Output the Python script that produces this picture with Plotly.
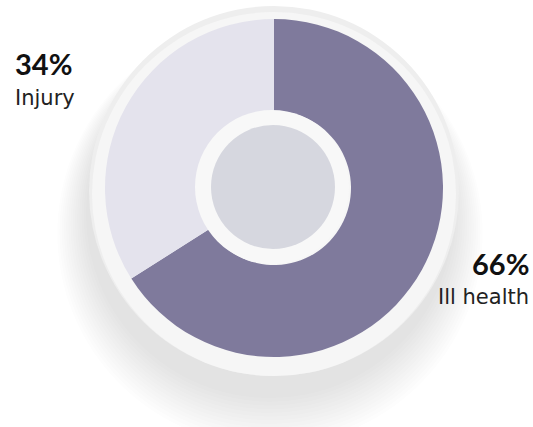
import plotly.graph_objects as go

labels = ["Ill health", "Injury"]
values = [66, 34]
colors = ["#7f7a9c", "#e4e3ed"]
pct_text = ["66%", "34%"]

W, H = 533, 427
PCT_FONT = "Lato"
LBL_FONT = "DejaVu Sans"


def px(x):
    return x / W


def py(y):
    return 1 - y / H


def circle(cx, cy, r, fill, layer="below"):
    return dict(
        type="circle", xref="paper", yref="paper",
        x0=px(cx - r), x1=px(cx + r), y0=py(cy + r), y1=py(cy - r),
        fillcolor=fill, line=dict(width=0), layer=layer,
    )


CX, CY, R = 274, 188, 169

fig = go.Figure(go.Pie(
    labels=labels, values=values, sort=False, direction="clockwise", rotation=0,
    hole=77 / 169, marker=dict(colors=colors, line=dict(width=0)),
    textinfo="none", hoverinfo="label+percent", showlegend=False,
    domain=dict(x=[px(CX - R), px(CX + R)], y=[py(CY + R), py(CY - R)]),
))

shapes = []
# soft drop shadow
for i in range(14):
    shapes.append(circle(270, 214 + i * 1.5, 184 + i * 2.2, "rgba(60,60,70,0.013)"))
# outer light ring
shapes.append(circle(274, 191, 185, "#eeeeee"))
shapes.append(circle(274, 194, 182, "#f6f6f6"))
# inner white ring and grey disc
shapes.append(circle(272, 187, 77, "#f8f8f8", layer="above"))
shapes.append(circle(273, 187, 62, "#d6d7df", layer="above"))

annotations = [
    dict(text="<b>" + pct_text[1] + "</b>", x=px(13), y=py(64), xanchor="left", yanchor="middle",
         font=dict(family=PCT_FONT, size=29, color="#111111")),
    dict(text=labels[1], x=px(13), y=py(98), xanchor="left", yanchor="middle",
         font=dict(family=LBL_FONT, size=21, color="#222222")),
    dict(text="<b>" + pct_text[0] + "</b>", x=px(531), y=py(263), xanchor="right", yanchor="middle",
         font=dict(family=PCT_FONT, size=29, color="#111111")),
    dict(text=labels[0], x=px(531), y=py(297), xanchor="right", yanchor="middle",
         font=dict(family=LBL_FONT, size=21, color="#222222")),
]
for a in annotations:
    a.update(xref="paper", yref="paper", showarrow=False)

fig.update_layout(
    width=W, height=H, margin=dict(l=0, r=0, t=0, b=0),
    paper_bgcolor="white", plot_bgcolor="white",
    shapes=shapes, annotations=annotations,
)

fig.write_html("out.html")
